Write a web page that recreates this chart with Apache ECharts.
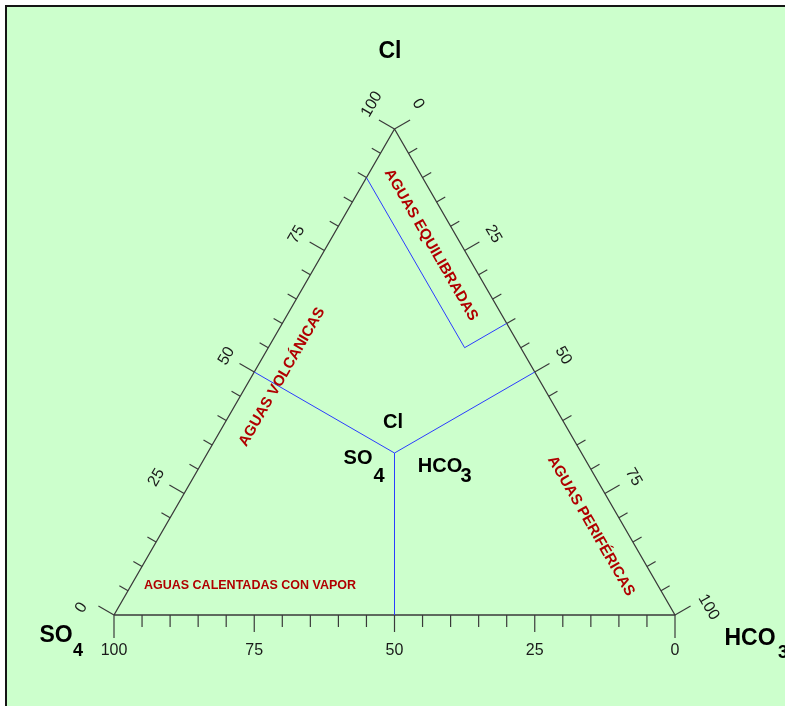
<!DOCTYPE html>
<html>
<head>
<meta charset="utf-8">
<script src="https://cdn.jsdelivr.net/npm/echarts@6/dist/echarts.min.js"></script>
<style>
  html, body { margin: 0; padding: 0; background: #ffffff; }
  #chart { width: 785px; height: 706px; }
</style>
</head>
<body>
<div id="chart"></div>
<script>
// Ternary compositions are given in percent as [Cl, SO4, HCO3].
const tickValues = [0, 5, 10, 15, 20, 25, 30, 35, 40, 45, 50, 55, 60, 65, 70, 75, 80, 85, 90, 95, 100];
const majorTickValues = [25, 50, 75];
const tickLabelValues = [0, 25, 50, 75, 100];

const triangleOutline = [[0, 100, 0], [0, 0, 100], [100, 0, 0], [0, 100, 0]];

// Three sectors meeting at the centre of the diagram
const sectorCentre = [100 / 3, 100 / 3, 100 / 3];
const sectorEdgePoints = [[50, 50, 0], [50, 0, 50], [0, 50, 50]];

// Boundary of the mature (equilibrated) water field near the Cl apex
const matureBoundary = [[90, 10, 0], [55, 10, 35], [60, 0, 40]];

const apexNames = ['Cl', 'SO', 'HCO'];
const apexSubscripts = ['', '4', '3'];
const regionNames = ['AGUAS VOLCÁNICAS', 'AGUAS EQUILIBRADAS', 'AGUAS PERIFÉRICAS', 'AGUAS CALENTADAS CON VAPOR'];

const H = Math.sqrt(3) / 2;
function toXY(c) {
  // c = [Cl, SO4, HCO3]; SO4 apex at (0,0), HCO3 apex at (100,0), Cl apex at top
  return [c[2] + c[0] / 2, c[0] * H];
}

// Each ternary axis: where a value v sits, the outward normal, and label rotation
const axesDef = [
  { at: v => [v, 100 - v, 0], normal: [-H, -0.5], dir: [0.5, -H], rot: Math.PI / 3, labelDist: 32, side: true },   // Cl (left)
  { at: v => [100 - v, 0, v], normal: [H, -0.5], dir: [0.5, H], rot: -Math.PI / 3, labelDist: 33, side: true },    // HCO3 (right)
  { at: v => [0, v, 100 - v], normal: [0, 1], dir: [-1, 0], rot: 0, labelDist: 36, side: false }                  // SO4 (bottom)
];

const tickData = [];
axesDef.forEach((a, ai) => {
  tickValues.forEach(v => {
    const p = toXY(a.at(v));
    tickData.push([p[0], p[1], ai, v]);
  });
});

const FONT = '"Liberation Sans", Arial, Helvetica, sans-serif';
const EDGE = '#3a3a3a';
const BLUE = '#2b3cff';
const RED = '#b00000';

function renderTick(params, api) {
  const ai = api.value(2);
  const v = api.value(3);
  const a = axesDef[ai];
  const pt = api.coord([api.value(0), api.value(1)]);
  const isEnd = v === 0 || v === 100;
  const isMajor = majorTickValues.indexOf(v) >= 0;
  let len;
  if (a.side) len = isEnd ? 18 : (isMajor ? 17 : 10);
  else len = isEnd ? 23 : (isMajor ? 17 : 12);
  const children = [{
    type: 'line',
    shape: { x1: pt[0], y1: pt[1], x2: pt[0] + a.normal[0] * len, y2: pt[1] + a.normal[1] * len },
    style: { stroke: EDGE, lineWidth: 1.2 }
  }];
  if (tickLabelValues.indexOf(v) >= 0) {
    let shift = 0;
    if (a.side && v === 0) shift = -10;
    if (a.side && v === 100) shift = 10;
    const lx = pt[0] + a.normal[0] * a.labelDist + a.dir[0] * shift;
    const ly = pt[1] + a.normal[1] * a.labelDist + a.dir[1] * shift;
    children.push({
      type: 'text',
      x: lx, y: ly, rotation: a.rot,
      style: { text: String(v), fill: '#1a1a1a', font: '16px ' + FONT, align: 'center', verticalAlign: 'middle', textAlign: 'center', textVerticalAlign: 'middle' }
    });
  }
  return { type: 'group', children: children };
}

function lineSeries(points, color, width) {
  return {
    type: 'line',
    data: points.map(toXY),
    symbol: 'none',
    clip: false,
    silent: true,
    animation: false,
    lineStyle: { color: color, width: width },
    z: 3
  };
}

function label(text, x, y, font, fill, rotation) {
  return {
    type: 'text', x: x, y: y, rotation: rotation || 0, silent: true, z: 10,
    style: { text: text, font: font, fill: fill, align: 'center', verticalAlign: 'middle', textAlign: 'center', textVerticalAlign: 'middle' }
  };
}

const chart = echarts.init(document.getElementById('chart'), null, { renderer: 'canvas' });

const series = [lineSeries(triangleOutline, EDGE, 1.3)];
sectorEdgePoints.forEach(p => series.push(lineSeries([sectorCentre, p], BLUE, 1)));
series.push(lineSeries(matureBoundary, BLUE, 1));
series.push({
  type: 'custom',
  coordinateSystem: 'cartesian2d',
  data: tickData,
  encode: { x: 0, y: 1 },
  renderItem: renderTick,
  silent: true,
  animation: false,
  clip: false,
  z: 4
});

const bigFont = 'bold 23px ' + FONT;
const subFont = 'bold 18px ' + FONT;
const innerFont = 'bold 20px ' + FONT;
const regionFont = 'bold 15px ' + FONT;

chart.setOption({
  animation: false,
  backgroundColor: '#ffffff',
  grid: { left: 114, top: 129, width: 561, height: 486 },
  xAxis: { type: 'value', min: 0, max: 100, show: false },
  yAxis: { type: 'value', min: 0, max: 100 * H, show: false },
  graphic: [
    { type: 'rect', shape: { x: 6, y: 6, width: 820, height: 740 }, style: { fill: '#ccffcc', stroke: '#151515', lineWidth: 2 }, z: -10, silent: true },
    // apex titles
    label(apexNames[0], 390, 52, bigFont, '#000'),
    label(apexNames[1], 56, 636, bigFont, '#000'),
    label(apexSubscripts[1], 78, 651, subFont, '#000'),
    label(apexNames[2], 750, 639, bigFont, '#000'),
    label(apexSubscripts[2], 783, 653, subFont, '#000'),
    // sector names around the centre
    label(apexNames[0], 393, 422, innerFont, '#000'),
    label(apexNames[1], 358, 458, innerFont, '#000'),
    label(apexSubscripts[1], 379, 476, innerFont, '#000'),
    label(apexNames[2], 440, 466, innerFont, '#000'),
    label(apexSubscripts[2], 466, 476, innerFont, '#000'),
    // water type fields
    label(regionNames[0], 282, 377, regionFont, RED, Math.PI / 3),
    label(regionNames[1], 431, 245, regionFont, RED, -Math.PI / 3),
    label(regionNames[2], 591, 526, regionFont, RED, -Math.PI / 3),
    label(regionNames[3], 250, 586, 'bold 12.5px ' + FONT, RED)
  ],
  series: series
});
</script>
</body>
</html>
